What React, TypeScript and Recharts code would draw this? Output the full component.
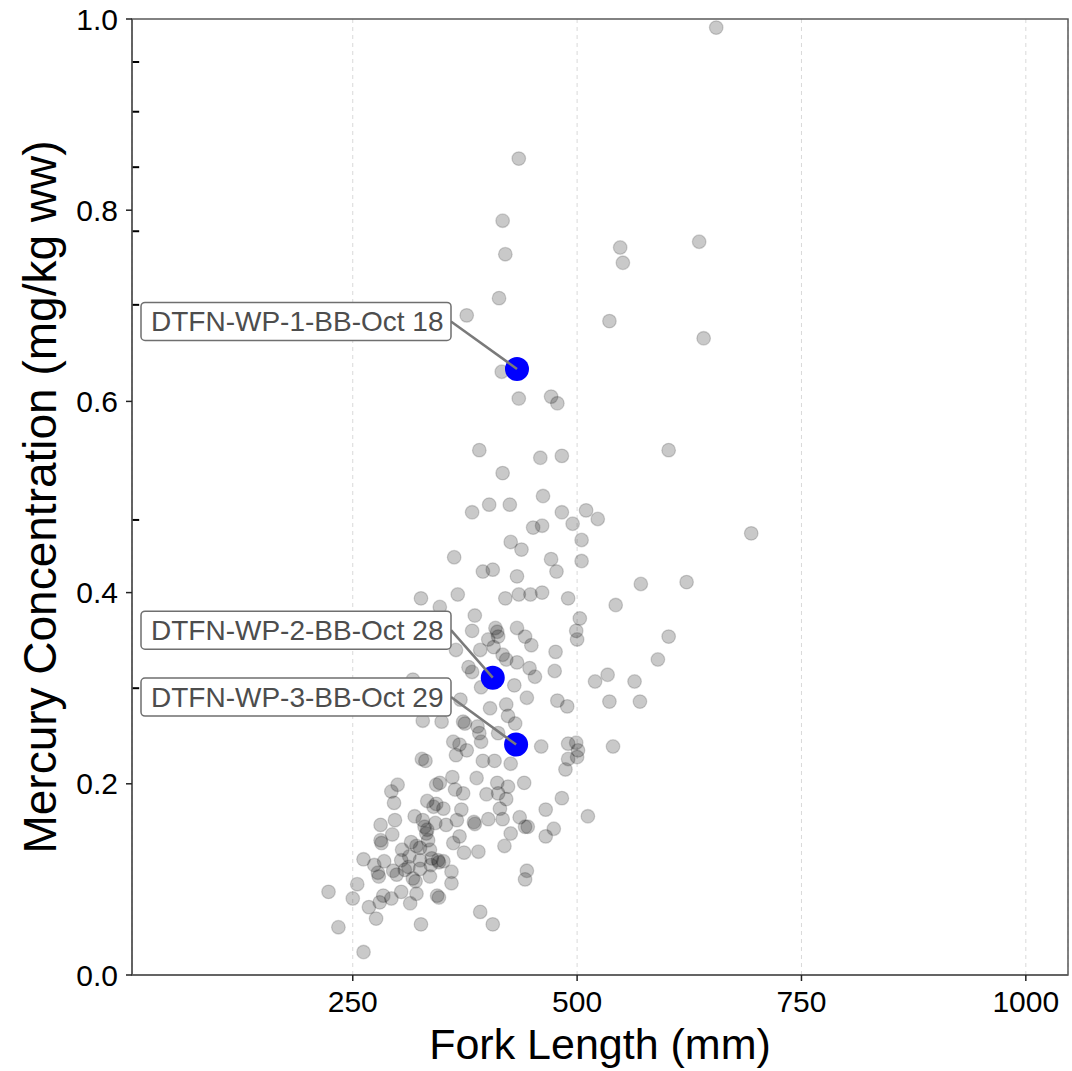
import {
  ScatterChart,
  Scatter,
  XAxis,
  YAxis,
  CartesianGrid,
  ReferenceArea,
  ReferenceLine,
} from "recharts";

// fish measurements (fork length in mm, Hg in mg/kg ww)
const forkLength = [
  655, 435, 417, 420, 413, 377, 548, 551, 636, 536, 641, 416, 435, 471, 478, 391, 459, 483, 417, 602,
  462, 383, 402, 425, 483, 510, 523, 495, 451, 461, 426, 505, 694, 438, 363, 471, 505, 395, 406, 433,
  477, 326, 367, 420, 435, 448, 461, 490, 571, 622,
  543, 386, 347, 383, 409, 411, 412, 433, 442, 449, 503, 499, 500, 602, 401, 407, 392, 365, 476, 421,
  417, 433, 379, 383, 447, 453, 475, 590, 520, 534, 564, 393, 430, 536, 570, 444, 478, 489, 403, 421,
  370, 423, 431, 375, 373, 389, 391, 393, 362, 369, 377, 365, 412, 460, 490, 499, 501, 500, 490, 487,
  540, 395, 408, 426, 388, 361,
  328, 349, 317, 327, 331,
  441, 411, 423, 364, 373, 399, 412, 421, 414, 371, 351, 483, 465, 512, 436, 401, 417, 385, 386, 366,
  354, 442, 445, 474, 465, 426, 369, 362, 419, 374, 390, 444, 351, 360, 442, 392, 406, 360,
  300, 293, 296, 297, 281, 294, 281, 282, 262, 274, 285, 278, 279, 255, 223, 250, 268, 276, 234, 262,
  280, 284, 293, 304, 314, 321, 326, 344, 346, 295, 299, 304, 313, 315, 321, 325, 317, 320, 312, 308,
  325, 336, 319, 328, 330, 333, 332, 334, 336, 338, 337, 325, 333, 340, 343, 342, 343, 347, 345, 346,
  305,
];
const mercury = [
  0.991, 0.854, 0.789, 0.754, 0.708, 0.69, 0.761, 0.745, 0.767, 0.684, 0.666, 0.631, 0.603, 0.605, 0.598, 0.549, 0.541, 0.543, 0.525, 0.549,
  0.501, 0.484, 0.492, 0.492, 0.484, 0.486, 0.477, 0.472, 0.468, 0.47, 0.453, 0.455, 0.462, 0.445, 0.437, 0.435, 0.433, 0.422, 0.424, 0.417,
  0.422, 0.394, 0.398, 0.394, 0.398, 0.398, 0.4, 0.394, 0.409, 0.411,
  0.387, 0.376, 0.385, 0.36, 0.363, 0.359, 0.354, 0.363, 0.354, 0.345, 0.373, 0.36, 0.351, 0.354, 0.351, 0.343, 0.34, 0.34, 0.338, 0.33,
  0.335, 0.327, 0.322, 0.317, 0.321, 0.312, 0.318, 0.33, 0.307, 0.314, 0.307, 0.301, 0.303, 0.286, 0.286, 0.29, 0.287, 0.281, 0.279, 0.283,
  0.288, 0.271, 0.263, 0.263, 0.265, 0.26, 0.253, 0.244, 0.244, 0.241, 0.235, 0.23, 0.253, 0.239, 0.242, 0.243, 0.235, 0.228, 0.226, 0.215,
  0.239, 0.224, 0.224, 0.221, 0.206, 0.207,
  0.266, 0.265, 0.309, 0.226, 0.224,
  0.201, 0.201, 0.197, 0.194, 0.19, 0.189, 0.19, 0.184, 0.174, 0.173, 0.174, 0.185, 0.173, 0.166, 0.165, 0.163, 0.163, 0.16, 0.158, 0.162,
  0.157, 0.155, 0.155, 0.153, 0.145, 0.148, 0.145, 0.138, 0.135, 0.128, 0.129, 0.109, 0.119, 0.108, 0.1, 0.066, 0.053, 0.096,
  0.199, 0.192, 0.18, 0.162, 0.157, 0.147, 0.141, 0.138, 0.121, 0.115, 0.119, 0.107, 0.103, 0.095, 0.087, 0.08, 0.071, 0.059, 0.05, 0.024,
  0.076, 0.083, 0.08, 0.087, 0.075, 0.085, 0.053, 0.083, 0.081, 0.109, 0.105, 0.12, 0.124, 0.139, 0.135, 0.133, 0.101, 0.098, 0.113, 0.11,
  0.111, 0.103, 0.166, 0.162, 0.155, 0.152, 0.148, 0.141, 0.131, 0.122, 0.115, 0.12, 0.182, 0.176, 0.179, 0.159, 0.199, 0.201, 0.12, 0.118,
  0.131,
];

const highlightLength = [433, 406, 432];
const highlightMercury = [0.634, 0.311, 0.241];
const highlightLabels = ["DTFN-WP-1-BB-Oct 18", "DTFN-WP-2-BB-Oct 28", "DTFN-WP-3-BB-Oct 29"];

const rugMercury = [0.955, 0.903, 0.845, 0.778, 0.701, 0.476, 0.3];

const xTicks = [250, 500, 750, 1000];
const yTicks = [0, 0.2, 0.4, 0.6, 0.8, 1.0];

const fish = forkLength.map((x, i) => ({ x, y: mercury[i] }));
const highlighted = highlightLength.map((x, i) => ({ x, y: highlightMercury[i], label: highlightLabels[i] }));

const PLOT_LEFT = 132;
const BOX_LEFT = PLOT_LEFT + 9;
const BOX_RIGHT = 451;

const GrayDot = (p: any) => (
  <circle cx={p.cx} cy={p.cy} r={6.8} fill="rgba(0,0,0,0.21)" stroke="rgba(0,0,0,0.16)" strokeWidth={1.3} />
);

const LabelledDot = (p: any) => {
  const boxMid = p.cy - 47.5;
  return (
    <g>
      <circle cx={p.cx} cy={p.cy} r={12} fill="#0000ff" />
      <line x1={BOX_RIGHT} y1={boxMid} x2={p.cx} y2={p.cy} stroke="#7a7a7a" strokeWidth={2.5} />
      <rect
        x={BOX_LEFT}
        y={boxMid - 19}
        width={BOX_RIGHT - BOX_LEFT}
        height={38}
        rx={4}
        fill="#fff"
        stroke="#6f6f6f"
        strokeWidth={1.5}
      />
      <text x={BOX_LEFT + 10} y={boxMid + 10} fontSize={28} fill="#4d4d4d">
        {p.payload.label}
      </text>
    </g>
  );
};

export default function App() {
  return (
    <div style={{ position: "absolute", left: 0, top: 0, background: "#fff" }}>
      <ScatterChart
        width={1072}
        height={1071}
        margin={{ top: 19, right: 4, left: 52, bottom: 6 }}
        style={{ fontFamily: "'Liberation Sans', Arial, sans-serif" }}
      >
        <CartesianGrid horizontal={false} stroke="#d9d9d9" strokeDasharray="4 4" />
        <XAxis
          type="number"
          dataKey="x"
          domain={[4, 1047]}
          ticks={xTicks}
          interval={0}
          allowDataOverflow
          height={90}
          tickSize={6}
          tickMargin={10}
          axisLine={{ stroke: "#5a5a5a", strokeWidth: 1.5 }}
          tickLine={{ stroke: "#222", strokeWidth: 1.5 }}
          tick={{ fontSize: 30, fill: "#000" }}
          label={{ value: "Fork Length (mm)", position: "center", dy: 24, fontSize: 43, fill: "#000" }}
        />
        <YAxis
          type="number"
          dataKey="y"
          domain={[0, 1]}
          ticks={yTicks}
          interval={0}
          width={80}
          tickSize={6}
          tickMargin={8}
          tickFormatter={(v: number) => v.toFixed(1)}
          axisLine={{ stroke: "#5a5a5a", strokeWidth: 1.5 }}
          tickLine={{ stroke: "#222", strokeWidth: 1.5 }}
          tick={{ fontSize: 30, fill: "#000" }}
          label={{
            value: "Mercury Concentration (mg/kg ww)",
            angle: -90,
            position: "center",
            dx: -52,
            fontSize: 46,
            fill: "#000",
          }}
        />
        <ReferenceArea x1={4} x2={1047} y1={0} y2={1} fill="none" stroke="#5a5a5a" strokeWidth={1.5} />
        {rugMercury.map((v) => (
          <ReferenceLine
            key={v}
            segment={[
              { x: 4, y: v },
              { x: 12, y: v },
            ]}
            stroke="#000"
            strokeWidth={2}
          />
        ))}
        <Scatter data={fish} shape={GrayDot} isAnimationActive={false} />
        <Scatter data={highlighted} shape={LabelledDot} isAnimationActive={false} />
      </ScatterChart>
    </div>
  );
}
